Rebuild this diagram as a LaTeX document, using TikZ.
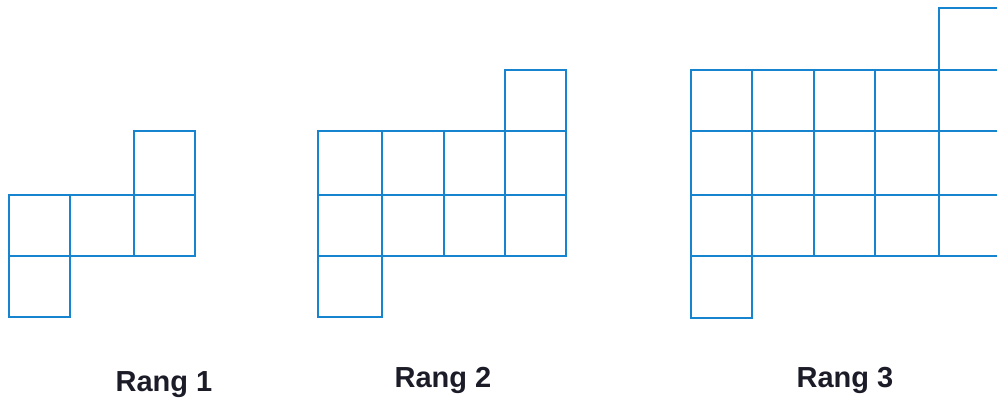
\documentclass[tikz,border=0pt]{standalone}
\usepackage{fontspec}
\setmainfont{Liberation Sans}
\definecolor{gridblue}{RGB}{22,132,206}
\definecolor{txt}{RGB}{28,28,40}
\begin{document}
\begin{tikzpicture}[x=1pt,y=-1pt,
  cell/.style={draw=gridblue,line width=2.6pt},
  lbl/.style={font=\bfseries\fontsize{29}{33}\selectfont,anchor=base,text=txt,inner sep=0pt}]
\useasboundingbox (0,0) rectangle (997,400);
\clip (0,0) rectangle (997,400);
% Rang 1
\draw[cell] (9,195) rectangle (70,256);
\draw[cell] (70,195) rectangle (134,256);
\draw[cell] (134,195) rectangle (195,256);
\draw[cell] (134,131) rectangle (195,195);
\draw[cell] (9,256) rectangle (70,317);
% Rang 2
\foreach \xa/\xb in {318/382,382/444,444/505,505/566}{
  \draw[cell] (\xa,131) rectangle (\xb,195);
  \draw[cell] (\xa,195) rectangle (\xb,256);
}
\draw[cell] (505,70) rectangle (566,131);
\draw[cell] (318,256) rectangle (382,317);
% Rang 3
\foreach \xa/\xb in {691/752,752/814,814/875,875/939,939/1001}{
  \draw[cell] (\xa,70) rectangle (\xb,131);
  \draw[cell] (\xa,131) rectangle (\xb,195);
  \draw[cell] (\xa,195) rectangle (\xb,256);
}
\draw[cell] (939,8) rectangle (1001,70);
\draw[cell] (691,256) rectangle (752,318);
% labels
\node[lbl] (r1) at (164,391) {Rang 1};
\node[lbl] (r2) at (443,387) {Rang 2};
\node[lbl] (r3) at (845,387) {Rang 3};
\end{tikzpicture}
\end{document}
